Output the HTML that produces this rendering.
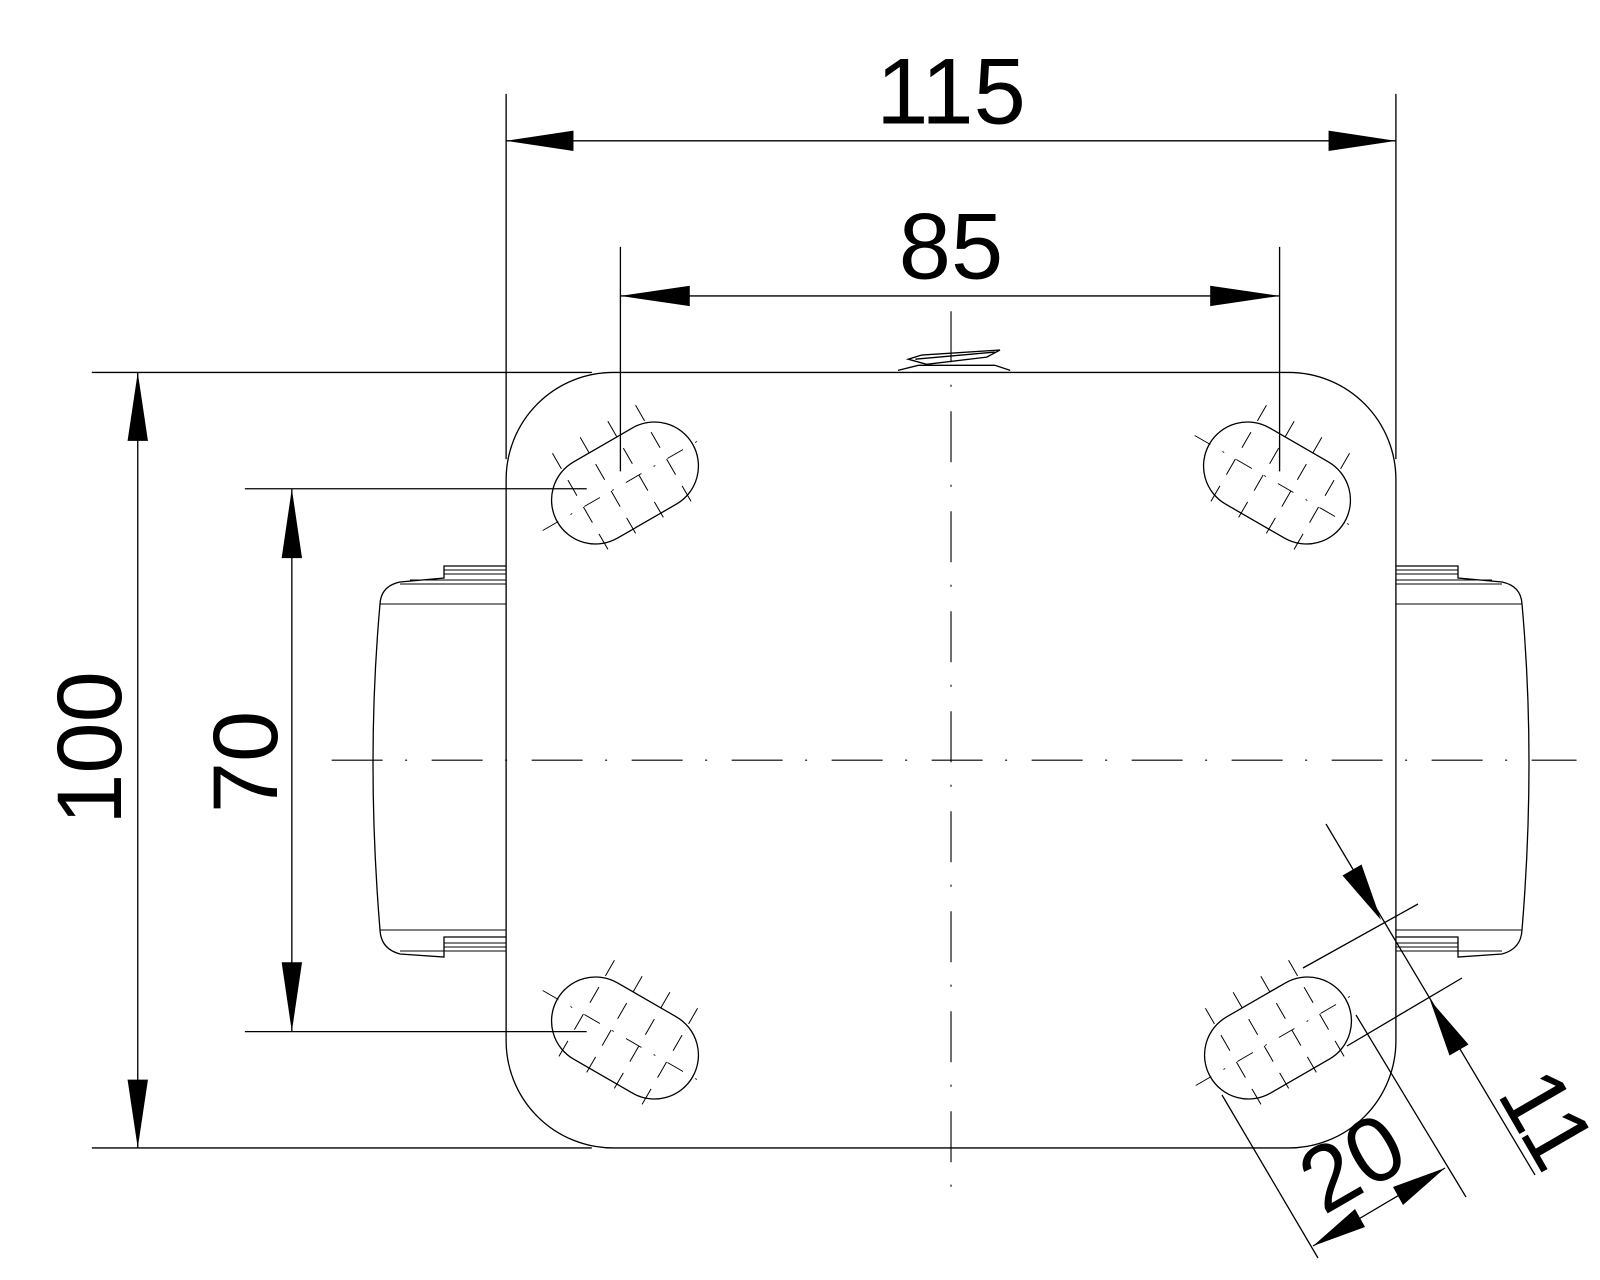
<!DOCTYPE html>
<html><head><meta charset="utf-8"><style>html,body{margin:0;padding:0;background:#fff}svg{display:block}</style></head>
<body>
<svg width="1600" height="1280" viewBox="0 0 1600 1280" xmlns="http://www.w3.org/2000/svg" font-family="Liberation Sans, sans-serif">
<defs>
<g id="slot">
  <path d="M-34,-44 L34,-44 A44,44 0 0 1 34,44 L-34,44 A44,44 0 0 1 -34,-44 Z" fill="none" stroke="#000" stroke-width="1.3"/>
  <line x1="-95" y1="0" x2="95" y2="0" stroke="#000" stroke-width="1" stroke-dasharray="18 14 2 14"/>
  <g stroke="#000" stroke-width="1" stroke-dasharray="18 13">
    <line x1="-48" y1="-62" x2="-48" y2="62"/>
    <line x1="-16" y1="-62" x2="-16" y2="62"/>
    <line x1="16" y1="-62" x2="16" y2="62"/>
    <line x1="48" y1="-62" x2="48" y2="62"/>
  </g>
</g>
<g id="wheel">
  <path d="M506,566 L444,566 L444,578 L400,582 Q381,586 380,604 Q366,760 380,930 Q381,949 400,954 L444,957 L444,937 L506,937" fill="none" stroke="#000" stroke-width="1.3"/>
  <g stroke="#000" stroke-width="1.1">
    <line x1="444" y1="570" x2="506" y2="570"/><line x1="444" y1="574" x2="506" y2="574"/>
    <line x1="410" y1="580" x2="506" y2="580"/><line x1="400" y1="584" x2="506" y2="584"/>
    <line x1="380" y1="604" x2="506" y2="604"/><line x1="380" y1="930" x2="506" y2="930"/>
    <line x1="400" y1="951" x2="506" y2="951"/><line x1="444" y1="943" x2="506" y2="943"/>
    <line x1="444" y1="947" x2="506" y2="947"/>
  </g>
</g>
</defs>
<rect width="1600" height="1280" fill="#fff"/>

<use href="#wheel"/>
<use href="#wheel" transform="translate(1902,0) scale(-1,1)"/>

<g transform="scale(1.0204)">
<rect x="496" y="365" width="872" height="760" rx="105" ry="105" fill="#fff" stroke="#000" stroke-width="1.3"/>

<g stroke="#000" stroke-width="1.3" fill="none">
  <path d="M880,363 L900,358 L975,358 L990,363"/>
  <path d="M903,348 L980,343 L967,350 L908,357 L890,352 L903,348"/>
  <path d="M897,352 L975,345"/>
</g>

<line x1="932" y1="305" x2="932" y2="1165" stroke="#000" stroke-width="1.1" stroke-dasharray="50 22 2 24"/>
<line x1="325" y1="745" x2="1545" y2="745" stroke="#000" stroke-width="1.1" stroke-dasharray="50 22 2 24"/>

<g stroke="#000" stroke-width="1.3" fill="none">
  <line x1="496" y1="92" x2="496" y2="450"/>
  <line x1="1368" y1="92" x2="1368" y2="450"/>
  <line x1="496" y1="138" x2="1368" y2="138"/>
  <line x1="608" y1="242" x2="608" y2="462"/>
  <line x1="1254" y1="242" x2="1254" y2="462"/>
  <line x1="608" y1="290" x2="1254" y2="290"/>
  <line x1="90" y1="365" x2="580" y2="365"/>
  <line x1="90" y1="1125" x2="580" y2="1125"/>
  <line x1="135" y1="365" x2="135" y2="1125"/>
  <line x1="240" y1="479" x2="575" y2="479"/>
  <line x1="240" y1="1011" x2="575" y2="1011"/>
  <line x1="286" y1="479" x2="286" y2="1011"/>
</g>
<g fill="#000">
  <polygon points="496,138 562,128 562,148"/>
  <polygon points="1368,138 1302,128 1302,148"/>
  <polygon points="608,290 676,280 676,300"/>
  <polygon points="1254,290 1186,280 1186,300"/>
  <polygon points="135,365 125,432 145,432"/>
  <polygon points="135,1125 125,1058 145,1058"/>
  <polygon points="286,479 276,547 296,547"/>
  <polygon points="286,1011 276,943 296,943"/>
</g>
<g font-size="92" fill="#000" text-anchor="middle">
  <text x="932" y="121">115</text>
  <text x="932" y="273">85</text>
</g>
</g>

<use href="#slot" transform="translate(625,483) rotate(-30)"/>
<use href="#slot" transform="translate(1277,483) rotate(30)"/>
<use href="#slot" transform="translate(625,1038) rotate(30)"/>
<use href="#slot" transform="translate(1278,1038) rotate(-30)"/>

<g stroke="#000" stroke-width="1.3" fill="none">
  <line x1="1303" y1="968" x2="1418" y2="904"/>
  <line x1="1347" y1="1046" x2="1462" y2="978"/>
  <line x1="1326" y1="824" x2="1535" y2="1175"/>
  <line x1="1222" y1="1095" x2="1318" y2="1258"/>
  <line x1="1356" y1="1015" x2="1466" y2="1197"/>
  <line x1="1313" y1="1246" x2="1445" y2="1168"/>
</g>
<g fill="#000">
  <polygon points="1381,920 1361.5,864.5 1342.5,875.5"/>
  <polygon points="1430,1000 1468.5,1044.5 1449.5,1055.5"/>
  <polygon points="1313,1246 1365,1227 1355,1209"/>
  <polygon points="1445,1168 1403,1205 1393,1187"/>
</g>

<g font-size="92" fill="#000" text-anchor="middle">
  <text transform="translate(121,748) rotate(-90)">100</text>
  <text transform="translate(277,762) rotate(-90)">70</text>
  <text transform="translate(1520,1135) rotate(60)">11</text>
  <text transform="translate(1368,1190) rotate(-30)">20</text>
</g>
</svg>
</body></html>
